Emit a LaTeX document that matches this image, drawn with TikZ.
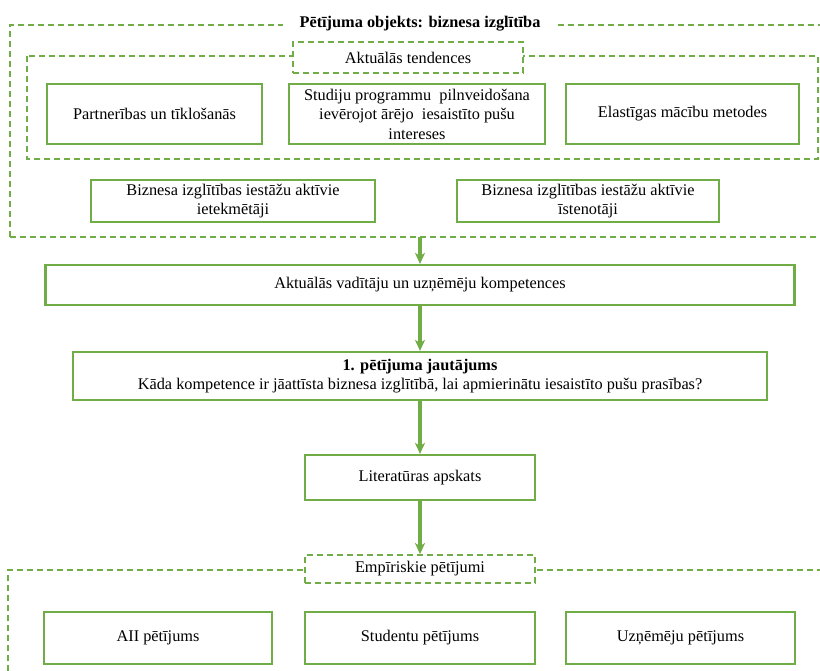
\documentclass[tikz,border=0pt]{standalone}
\usepackage{fontspec}
\setmainfont{Liberation Serif}
\usetikzlibrary{arrows.meta}
\definecolor{zals}{RGB}{112,173,71}
\begin{document}
\begin{tikzpicture}[x=1pt,y=-1pt,semithick]
\tikzset{every node/.style={align=center, inner sep=2pt, font=\fontsize{16.3}{19.5}\selectfont}}
\tikzstyle{kaste}=[draw=zals,line width=2.2pt,fill=white]
\tikzstyle{svitr}=[draw=zals,line width=1.8pt,dash pattern=on 6pt off 4pt]
\tikzstyle{bulta}=[draw=zals,line width=3.5pt,-{Stealth[length=11pt,width=10pt,inset=3pt]}]
\useasboundingbox (0,0) rectangle (820,671);
% frames
\draw[svitr] (10,237) -- (10,25) -- (820,25);
\draw[svitr] (10,237) -- (820,237);
\draw[svitr] (27,56) rectangle (818,159);
\draw[svitr] (8,671) -- (8,570) -- (820,570);
% vertices
\node[fill=white, font=\bfseries\fontsize{16.3}{19.5}\selectfont, minimum width=275pt, minimum height=24pt] (objekts) at (420,24) {Pētījuma objekts: biznesa izglītība};
\node[kaste, svitr, minimum width=230pt, minimum height=31pt] (tend) at (408,57.5) {Aktuālās tendences};
\node[kaste, minimum width=215pt, minimum height=60pt] (partn) at (154.5,114) {Partnerības un tīklošanās};
\node[kaste, minimum width=256pt, minimum height=60pt, inner sep=0pt] (studiju) at (417,114) {Studiju programmu \ pilnveidošana\\ievērojot ārējo \ iesaistīto pušu\\intereses};
\node[kaste, minimum width=233pt, minimum height=60pt] (elast) at (682.5,114) {Elastīgas mācību metodes};
\node[kaste, minimum width=284pt, minimum height=42pt, inner sep=0pt] (ietekm) at (233,201) {Biznesa izglītības iestāžu aktīvie\\ietekmētāji};
\node[kaste, minimum width=262pt, minimum height=42pt, inner sep=0pt] (isten) at (588,201) {Biznesa izglītības iestāžu aktīvie\\īstenotāji};
\coordinate (objapaksa) at (420,237);
\node[kaste, minimum width=749pt, minimum height=40pt] (kompet) at (420,285) {Aktuālās vadītāju un uzņēmēju kompetences};
\node[kaste, minimum width=694pt, minimum height=48pt, inner sep=0pt] (jaut) at (420,376) {\textbf{1. pētījuma jautājums}\\Kāda kompetence ir jāattīsta biznesa izglītībā, lai apmierinātu iesaistīto pušu prasības?};
\node[kaste, minimum width=230pt, minimum height=45pt] (lit) at (420,477.5) {Literatūras apskats};
\node[kaste, svitr, minimum width=230pt, minimum height=28pt] (emp) at (420,569) {Empīriskie pētījumi};
\node[kaste, minimum width=228pt, minimum height=52pt] (aii) at (158,638) {AII pētījums};
\node[kaste, minimum width=230pt, minimum height=52pt] (stud) at (420,638) {Studentu pētījums};
\node[kaste, minimum width=229pt, minimum height=52pt] (uzn) at (680.5,638) {Uzņēmēju pētījums};
% arrows
\draw[bulta] (objapaksa) -- (kompet);
\draw[bulta] (kompet) -- (jaut);
\draw[bulta] (jaut) -- (lit);
\draw[bulta] (lit) -- (emp);
\end{tikzpicture}
\end{document}
